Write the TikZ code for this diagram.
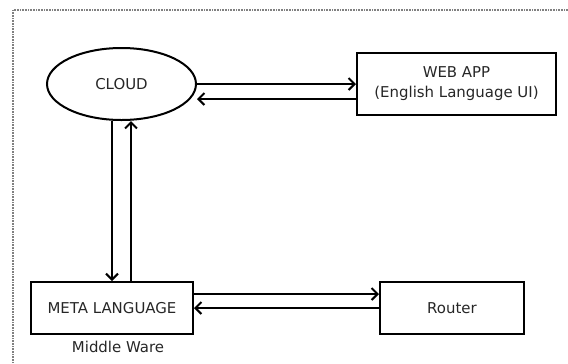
\documentclass[tikz,border=0pt]{standalone}
\usepackage{fontspec}
\setmainfont{DejaVu Sans}
\usetikzlibrary{arrows.meta,positioning,shapes.geometric}

\tikzset{
  unit/.style={draw,line width=2bp,inner sep=0pt,align=center},
  link/.style={->,line width=2bp},
}

\begin{document}
\begin{tikzpicture}[x=1bp,y=-1bp,>={Straight Barb[length=6bp,width=12bp]},
  font=\fontsize{15}{20}\selectfont,text=black!85]
\useasboundingbox (0,0) rectangle (568,363);
% page frame
\draw[gray,line width=2bp,dash pattern=on 1bp off 0.6bp] (13,363) |- (568,10);
\node[unit,ellipse,minimum width=149bp,minimum height=72bp] (cloud) at (121.5,84) {CLOUD};
\node[unit,minimum width=199bp,minimum height=62bp] (webapp) at (456.5,84) {WEB APP\\(English Language UI)};
\node[unit,minimum width=162bp,minimum height=52bp] (meta) at (112,308) {META LANGUAGE};
\node[unit,minimum width=144bp,minimum height=52bp] (router) at (452,308) {Router};
\node[below=3bp of meta,xshift=6bp] (mware) {Middle Ware};
% cloud <-> web app
\draw[link] (cloud.east) -- (cloud.east -| webapp.west);
\draw[link] ([yshift=-15bp]webapp.west) -- ([yshift=-15bp]webapp.west -| cloud.east);
% cloud <-> meta language
\draw[link] (cloud.south -| meta.north) -- (meta.north);
\draw[link] ([xshift=19bp]meta.north) -- ([xshift=19bp]meta.north |- cloud.south);
% meta language <-> router
\draw[link] ([yshift=14bp]meta.east) -- ([yshift=14bp]meta.east -| router.west);
\draw[link] (router.west) -- (router.west -| meta.east);
\end{tikzpicture}
\end{document}
